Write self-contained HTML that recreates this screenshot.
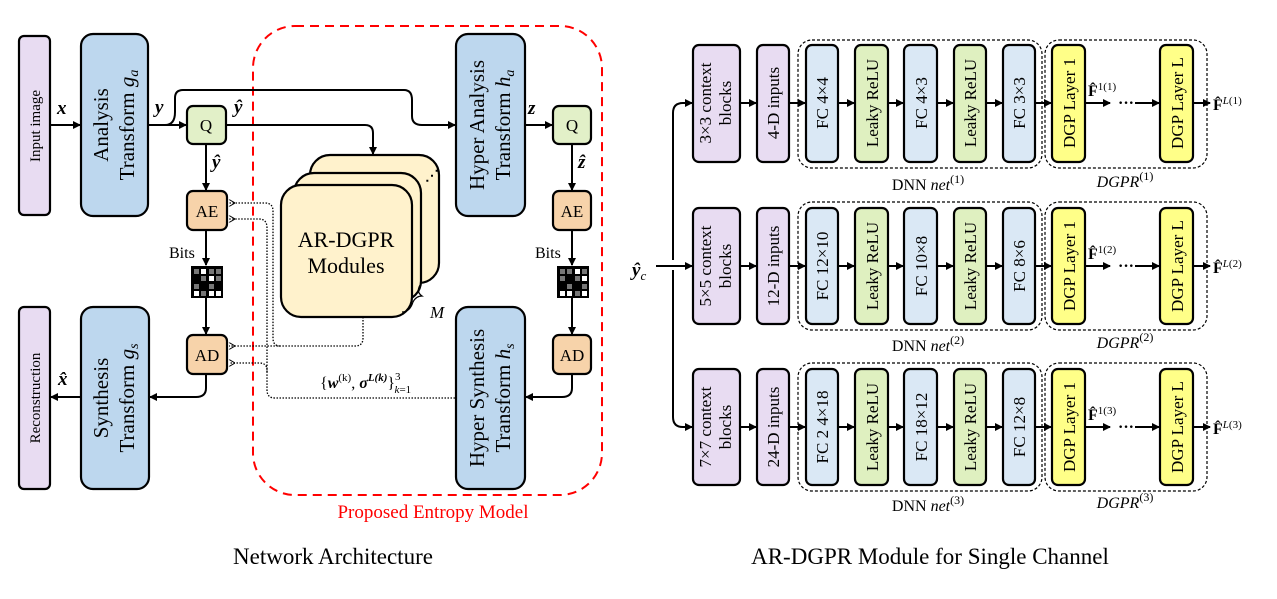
<!DOCTYPE html>
<html><head><meta charset="utf-8"><style>
html,body{margin:0;padding:0;background:#fff;}
svg{display:block;font-family:"Liberation Serif",serif;}
</style></head><body>
<svg width="1277" height="599" viewBox="0 0 1277 599" xmlns="http://www.w3.org/2000/svg">
<defs>
<marker id="a" markerWidth="8" markerHeight="8" refX="7" refY="4" orient="auto" markerUnits="userSpaceOnUse"><path d="M0,0 L8,4 L0,8 Z" fill="#000"/></marker>
<marker id="d" markerWidth="7" markerHeight="7" refX="6" refY="3.5" orient="auto" markerUnits="userSpaceOnUse"><path d="M6,0 L0,3.5 L6,7" fill="none" stroke="#000" stroke-width="1"/></marker>
</defs>
<g stroke="#000" stroke-width="2.2">
<rect x="19" y="36" width="31" height="179" rx="5" fill="#e8dcf2"/>
<rect x="81" y="34" width="67" height="182" rx="12" fill="#bdd7ee"/>
<rect x="19" y="307" width="31" height="182" rx="5" fill="#e8dcf2"/>
<rect x="81" y="307" width="68" height="182" rx="12" fill="#bdd7ee"/>
<rect x="456" y="34" width="69" height="182" rx="12" fill="#bdd7ee"/>
<rect x="456" y="307" width="69" height="182" rx="12" fill="#bdd7ee"/>
<rect x="187" y="106" width="39" height="38" rx="6" fill="#e2f0c8"/>
<rect x="553" y="106" width="38" height="38" rx="6" fill="#e2f0c8"/>
<rect x="187" y="191" width="40" height="39" rx="6" fill="#f7d3aa"/>
<rect x="553" y="191" width="38" height="39" rx="6" fill="#f7d3aa"/>
<rect x="187" y="335" width="40" height="39" rx="6" fill="#f7d3aa"/>
<rect x="553" y="335" width="38" height="39" rx="6" fill="#f7d3aa"/>
<rect x="310" y="155" width="129" height="128" rx="20" fill="#fff2cc"/>
<rect x="294" y="173" width="127" height="128" rx="20" fill="#fff2cc"/>
<rect x="281" y="185" width="131" height="132" rx="20" fill="#fff2cc"/>
</g>
<g>
<rect x="191" y="266" width="32" height="32" fill="#000"/>
<rect x="557" y="266" width="32" height="32" fill="#000"/>
<g fill="#777">
<rect x="194" y="269" width="5" height="5"/><rect x="209" y="269" width="5" height="5"/><rect x="216" y="269" width="5" height="5"/>
<rect x="201" y="276" width="5" height="5"/><rect x="216" y="276" width="5" height="5"/>
<rect x="194" y="284" width="5" height="5"/><rect x="209" y="284" width="5" height="5"/><rect x="201" y="291" width="5" height="5"/>
<rect x="560" y="269" width="5" height="5"/><rect x="567" y="269" width="5" height="5"/><rect x="582" y="269" width="5" height="5"/>
<rect x="560" y="276" width="5" height="5"/><rect x="575" y="276" width="5" height="5"/>
<rect x="567" y="284" width="5" height="5"/><rect x="582" y="284" width="5" height="5"/><rect x="575" y="291" width="5" height="5"/>
</g>
<g fill="#fff">
<rect x="201" y="269" width="5" height="5"/><rect x="209" y="276" width="5" height="5"/><rect x="216" y="291" width="5" height="5"/>
<rect x="209" y="291" width="5" height="5"/><rect x="194" y="291" width="5" height="5"/>
<rect x="575" y="269" width="5" height="5"/><rect x="582" y="276" width="5" height="5"/><rect x="560" y="291" width="5" height="5"/>
<rect x="567" y="291" width="5" height="5"/><rect x="582" y="291" width="5" height="5"/>
</g>
</g>
<rect x="253" y="26" width="349" height="469" rx="42" fill="none" stroke="#ff0000" stroke-width="2" stroke-dasharray="9,6"/>
<g stroke="#000" stroke-width="2" fill="none" marker-end="url(#a)">
<line x1="50" y1="125" x2="80" y2="125"/>
<line x1="148" y1="125" x2="186" y2="125"/>
<path d="M165,125 Q175,125 175,112 L175,98 Q175,90 183,90 L404,90 Q412,90 412,100 L412,116 Q412,125 422,125 L455,125"/>
<path d="M226,125 L365,125 Q373,125 373,133 L373,154"/>
<line x1="206" y1="144" x2="206" y2="190"/>
<line x1="206" y1="230" x2="206" y2="265"/>
<line x1="206" y1="298" x2="206" y2="334"/>
<path d="M206,374 L206,388 Q206,397 196,397 L150,397"/>
<line x1="81" y1="397" x2="51" y2="397"/>
<line x1="525" y1="125" x2="552" y2="125"/>
<line x1="572" y1="144" x2="572" y2="190"/>
<line x1="572" y1="230" x2="572" y2="265"/>
<line x1="572" y1="298" x2="572" y2="334"/>
<path d="M572,374 L572,388 Q572,397 562,397 L526,397"/>
</g>
<g stroke="#000" stroke-width="1.3" fill="none" stroke-dasharray="1.5,1.5">
<path d="M363,317 L363,338 Q363,346 355,346 L229,346" marker-end="url(#d)"/>
<path d="M280,346 Q273,346 273,338 L273,211 Q273,203 265,203 L229,203" marker-end="url(#d)"/>
<path d="M455,398 L275,398 Q267,398 267,390 L267,370 Q267,363 259,363 L229,363" marker-end="url(#d)"/>
<path d="M267,372 L267,228 Q267,219 259,219 L229,219" marker-end="url(#d)"/>
</g>
<path d="M402,312 Q410,312 413,302 Q416,296 422,296 Q416,292 420,285" fill="none" stroke="#000" stroke-width="1.2"/>
<text x="425" y="180" font-size="14" font-weight="bold">⋰</text>
<g font-size="17" text-anchor="middle">
<text transform="translate(40,126) rotate(-90)" font-size="15">Input image</text>
<text transform="translate(40,398) rotate(-90)" font-size="15">Reconstruction</text>
<text transform="translate(108,125) rotate(-90)" font-size="21">Analysis</text>
<text transform="translate(134,125) rotate(-90)" font-size="21">Transform <tspan font-style="italic">g<tspan font-size="14" dy="4">a</tspan></tspan></text>
<text transform="translate(108,398) rotate(-90)" font-size="21">Synthesis</text>
<text transform="translate(134,398) rotate(-90)" font-size="21">Transform <tspan font-style="italic">g<tspan font-size="14" dy="4">s</tspan></tspan></text>
<text transform="translate(484,125) rotate(-90)" font-size="21">Hyper Analysis</text>
<text transform="translate(510,125) rotate(-90)" font-size="21">Transform <tspan font-style="italic">h<tspan font-size="14" dy="4">a</tspan></tspan></text>
<text transform="translate(484,398) rotate(-90)" font-size="21">Hyper Synthesis</text>
<text transform="translate(510,398) rotate(-90)" font-size="21">Transform <tspan font-style="italic">h<tspan font-size="14" dy="4">s</tspan></tspan></text>
<text x="206" y="131" font-size="17">Q</text>
<text x="572" y="131" font-size="17">Q</text>
<text x="207" y="217" font-size="17">AE</text>
<text x="572" y="217" font-size="17">AE</text>
<text x="207" y="361" font-size="17">AD</text>
<text x="572" y="361" font-size="17">AD</text>
<text x="346" y="247" font-size="22">AR-DGPR</text>
<text x="346" y="273" font-size="22">Modules</text>
<text x="433" y="518" font-size="19" fill="#ff0000">Proposed Entropy Model</text>
<text x="333" y="564" font-size="23">Network Architecture</text>
<text x="930" y="564" font-size="23">AR-DGPR Module for Single Channel</text>
</g>
<g font-size="19" font-weight="bold" font-style="italic">
<text x="57" y="114">x</text>
<text x="155" y="113">y</text>
<text x="234" y="113">ŷ</text>
<text x="212" y="168">ŷ</text>
<text x="528" y="114">z</text>
<text x="578" y="168">ẑ</text>
<text x="58" y="385">x̂</text>
<text x="632" y="276">ŷ<tspan font-size="13" font-weight="normal" dy="4">c</tspan></text>
</g>
<text x="169" y="258" font-size="16">Bits</text>
<text x="535" y="258" font-size="16">Bits</text>
<text x="430" y="318" font-size="17" font-style="italic">M</text>
<text x="320" y="388" font-size="16">{<tspan font-weight="bold" font-style="italic">w</tspan><tspan font-size="11" dy="-7">(k)</tspan><tspan dy="7">, </tspan><tspan font-weight="bold" font-style="italic">σ</tspan><tspan font-size="11" dy="-7" font-weight="bold" font-style="italic">L(k)</tspan><tspan dy="7">}</tspan><tspan font-size="11" dy="-8">3</tspan><tspan font-size="11" dx="-6" dy="13" font-style="italic">k</tspan><tspan font-size="11">=1</tspan></text>

<!-- right diagram connectors -->
<g fill="none" stroke="#000" stroke-width="2" marker-end="url(#a)">
<path d="M673,260 L673,113 Q673,103 683,103 L692,103"/>
<path d="M673,270 L673,417 Q673,427 683,427 L692,427"/>
<line x1="656" y1="266" x2="692" y2="266"/>
</g>
<g stroke="#000" stroke-width="2.2">
<rect x="693" y="45" width="47" height="117" rx="6" fill="#e8dcf2"/><rect x="757" y="45" width="32" height="117" rx="6" fill="#e8dcf2"/>
<rect x="806" y="45" width="32" height="117" rx="6" fill="#dae8f5"/><rect x="855" y="45" width="33" height="117" rx="6" fill="#dff0c0"/>
<rect x="904" y="45" width="33" height="117" rx="6" fill="#dae8f5"/><rect x="954" y="45" width="32" height="117" rx="6" fill="#dff0c0"/>
<rect x="1003" y="45" width="32" height="117" rx="6" fill="#dae8f5"/><rect x="1052" y="45" width="33" height="117" rx="6" fill="#ffff88"/>
<rect x="1160" y="45" width="33" height="117" rx="6" fill="#ffff88"/>
<rect x="693" y="208" width="47" height="116" rx="6" fill="#e8dcf2"/><rect x="757" y="208" width="32" height="116" rx="6" fill="#e8dcf2"/>
<rect x="806" y="208" width="32" height="116" rx="6" fill="#dae8f5"/><rect x="855" y="208" width="33" height="116" rx="6" fill="#dff0c0"/>
<rect x="904" y="208" width="33" height="116" rx="6" fill="#dae8f5"/><rect x="954" y="208" width="32" height="116" rx="6" fill="#dff0c0"/>
<rect x="1003" y="208" width="32" height="116" rx="6" fill="#dae8f5"/><rect x="1052" y="208" width="33" height="116" rx="6" fill="#ffff88"/>
<rect x="1160" y="208" width="33" height="116" rx="6" fill="#ffff88"/>
<rect x="693" y="369" width="47" height="116" rx="6" fill="#e8dcf2"/><rect x="757" y="369" width="32" height="116" rx="6" fill="#e8dcf2"/>
<rect x="806" y="369" width="32" height="116" rx="6" fill="#dae8f5"/><rect x="855" y="369" width="33" height="116" rx="6" fill="#dff0c0"/>
<rect x="904" y="369" width="33" height="116" rx="6" fill="#dae8f5"/><rect x="954" y="369" width="32" height="116" rx="6" fill="#dff0c0"/>
<rect x="1003" y="369" width="32" height="116" rx="6" fill="#dae8f5"/><rect x="1052" y="369" width="33" height="116" rx="6" fill="#ffff88"/>
<rect x="1160" y="369" width="33" height="116" rx="6" fill="#ffff88"/>
</g>
<g fill="none" stroke="#000" stroke-width="1.2" stroke-dasharray="3,2">
<rect x="798" y="40" width="244" height="128" rx="14"/><rect x="1045" y="40" width="162" height="128" rx="14"/>
<rect x="798" y="202" width="244" height="128" rx="14"/><rect x="1045" y="202" width="162" height="128" rx="14"/>
<rect x="798" y="363" width="244" height="128" rx="14"/><rect x="1045" y="363" width="162" height="128" rx="14"/>
</g>
<g stroke="#000" stroke-width="2">
<line x1="740" y1="103" x2="756" y2="103" marker-end="url(#a)"/>
<line x1="789" y1="103" x2="805" y2="103" marker-end="url(#a)"/>
<line x1="838" y1="103" x2="854" y2="103" marker-end="url(#a)"/>
<line x1="888" y1="103" x2="903" y2="103" marker-end="url(#a)"/>
<line x1="937" y1="103" x2="953" y2="103" marker-end="url(#a)"/>
<line x1="986" y1="103" x2="1002" y2="103" marker-end="url(#a)"/>
<line x1="1035" y1="103" x2="1051" y2="103" marker-end="url(#a)"/>
<line x1="1085" y1="103" x2="1110" y2="103" marker-end="url(#a)"/>
<line x1="1135" y1="103" x2="1159" y2="103" marker-end="url(#a)"/>
<line x1="1193" y1="103" x2="1210" y2="103" marker-end="url(#a)"/>
<line x1="740" y1="266" x2="756" y2="266" marker-end="url(#a)"/>
<line x1="789" y1="266" x2="805" y2="266" marker-end="url(#a)"/>
<line x1="838" y1="266" x2="854" y2="266" marker-end="url(#a)"/>
<line x1="888" y1="266" x2="903" y2="266" marker-end="url(#a)"/>
<line x1="937" y1="266" x2="953" y2="266" marker-end="url(#a)"/>
<line x1="986" y1="266" x2="1002" y2="266" marker-end="url(#a)"/>
<line x1="1035" y1="266" x2="1051" y2="266" marker-end="url(#a)"/>
<line x1="1085" y1="266" x2="1110" y2="266" marker-end="url(#a)"/>
<line x1="1135" y1="266" x2="1159" y2="266" marker-end="url(#a)"/>
<line x1="1193" y1="266" x2="1210" y2="266" marker-end="url(#a)"/>
<line x1="740" y1="427" x2="756" y2="427" marker-end="url(#a)"/>
<line x1="789" y1="427" x2="805" y2="427" marker-end="url(#a)"/>
<line x1="838" y1="427" x2="854" y2="427" marker-end="url(#a)"/>
<line x1="888" y1="427" x2="903" y2="427" marker-end="url(#a)"/>
<line x1="937" y1="427" x2="953" y2="427" marker-end="url(#a)"/>
<line x1="986" y1="427" x2="1002" y2="427" marker-end="url(#a)"/>
<line x1="1035" y1="427" x2="1051" y2="427" marker-end="url(#a)"/>
<line x1="1085" y1="427" x2="1110" y2="427" marker-end="url(#a)"/>
<line x1="1135" y1="427" x2="1159" y2="427" marker-end="url(#a)"/>
<line x1="1193" y1="427" x2="1210" y2="427" marker-end="url(#a)"/>
</g>
<g font-size="17" text-anchor="middle">
<text transform="translate(711,103) rotate(-90)">3×3 context</text><text transform="translate(731,103) rotate(-90)">blocks</text>
<text transform="translate(779,103) rotate(-90)">4-D inputs</text>
<text transform="translate(828,103) rotate(-90)">FC  4×4</text>
<text transform="translate(878,103) rotate(-90)">Leaky ReLU</text>
<text transform="translate(927,103) rotate(-90)">FC  4×3</text>
<text transform="translate(976,103) rotate(-90)">Leaky ReLU</text>
<text transform="translate(1025,103) rotate(-90)">FC  3×3</text>
<text transform="translate(1075,103) rotate(-90)">DGP Layer 1</text>
<text transform="translate(1183,103) rotate(-90)">DGP Layer L</text>

<text transform="translate(711,266) rotate(-90)">5×5 context</text><text transform="translate(731,266) rotate(-90)">blocks</text>
<text transform="translate(779,266) rotate(-90)">12-D inputs</text>
<text transform="translate(828,266) rotate(-90)">FC  12×10</text>
<text transform="translate(878,266) rotate(-90)">Leaky ReLU</text>
<text transform="translate(927,266) rotate(-90)">FC  10×8</text>
<text transform="translate(976,266) rotate(-90)">Leaky ReLU</text>
<text transform="translate(1025,266) rotate(-90)">FC  8×6</text>
<text transform="translate(1075,266) rotate(-90)">DGP Layer 1</text>
<text transform="translate(1183,266) rotate(-90)">DGP Layer L</text>

<text transform="translate(711,427) rotate(-90)">7×7 context</text><text transform="translate(731,427) rotate(-90)">blocks</text>
<text transform="translate(779,427) rotate(-90)">24-D inputs</text>
<text transform="translate(828,427) rotate(-90)">FC  2 4×18</text>
<text transform="translate(878,427) rotate(-90)">Leaky ReLU</text>
<text transform="translate(927,427) rotate(-90)">FC  18×12</text>
<text transform="translate(976,427) rotate(-90)">Leaky ReLU</text>
<text transform="translate(1025,427) rotate(-90)">FC  12×8</text>
<text transform="translate(1075,427) rotate(-90)">DGP Layer 1</text>
<text transform="translate(1183,427) rotate(-90)">DGP Layer L</text>

<text x="928" y="190" font-size="16">DNN <tspan font-style="italic">net</tspan><tspan font-size="12" dy="-7">(1)</tspan></text>
<text x="928" y="351" font-size="16">DNN <tspan font-style="italic">net</tspan><tspan font-size="12" dy="-7">(2)</tspan></text>
<text x="928" y="511" font-size="16">DNN <tspan font-style="italic">net</tspan><tspan font-size="12" dy="-7">(3)</tspan></text>
<text x="1125" y="187" font-size="16" font-style="italic">DGPR<tspan font-size="12" font-style="normal" dy="-7">(1)</tspan></text>
<text x="1125" y="348" font-size="16" font-style="italic">DGPR<tspan font-size="12" font-style="normal" dy="-7">(2)</tspan></text>
<text x="1125" y="508" font-size="16" font-style="italic">DGPR<tspan font-size="12" font-style="normal" dy="-7">(3)</tspan></text>
</g>
<g font-size="16">
<text x="1118" y="108" font-weight="bold">···</text>
<text x="1118" y="271" font-weight="bold">···</text>
<text x="1118" y="432" font-weight="bold">···</text>
<text x="1088" y="96"><tspan font-weight="bold">F̂</tspan><tspan font-size="11" dy="-6">1(1)</tspan></text>
<text x="1088" y="259"><tspan font-weight="bold">F̂</tspan><tspan font-size="11" dy="-6">1(2)</tspan></text>
<text x="1088" y="420"><tspan font-weight="bold">F̂</tspan><tspan font-size="11" dy="-6">1(3)</tspan></text>
<text x="1213" y="110"><tspan font-weight="bold">F̂</tspan><tspan font-size="11" dy="-6" font-style="italic">L</tspan><tspan font-size="11">(1)</tspan></text>
<text x="1213" y="273"><tspan font-weight="bold">F̂</tspan><tspan font-size="11" dy="-6" font-style="italic">L</tspan><tspan font-size="11">(2)</tspan></text>
<text x="1213" y="434"><tspan font-weight="bold">F̂</tspan><tspan font-size="11" dy="-6" font-style="italic">L</tspan><tspan font-size="11">(3)</tspan></text>
</g>
</svg>
</body></html>
